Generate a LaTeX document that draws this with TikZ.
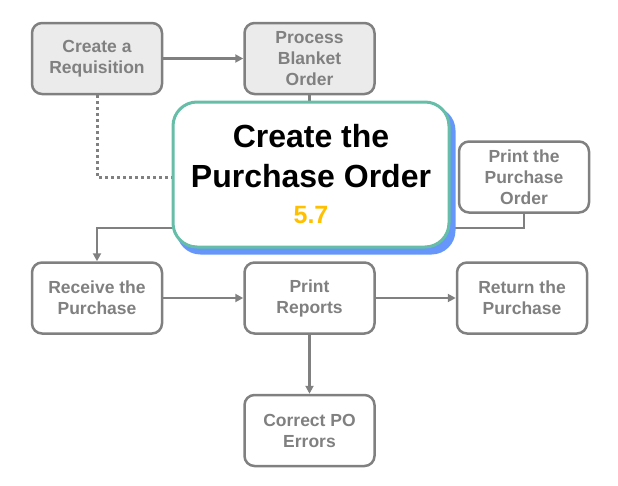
\documentclass[tikz,border=0pt]{standalone}
\usepackage{fontspec}
\setmainfont{Liberation Sans}
\usetikzlibrary{arrows.meta, positioning, backgrounds}
\definecolor{stepgray}{RGB}{128,128,128}
\definecolor{boxfill}{RGB}{235,235,235}
\definecolor{poteal}{RGB}{102,190,168}
\definecolor{poblue}{RGB}{102,150,250}
\definecolor{poyellow}{RGB}{255,192,0}

\begin{document}
\begin{tikzpicture}[x=1pt, y=1pt,
  font=\fontsize{17.5}{21}\selectfont\bfseries,
  task/.style={draw=stepgray, line width=2.5pt, rounded corners=10pt, fill=white, text=stepgray,
    align=center, minimum width=130pt, minimum height=71pt, inner sep=2pt},
  done/.style={task, fill=boxfill},
  main/.style={draw=poteal, line width=3pt, rounded corners=24pt, fill=white, align=center,
    minimum width=276pt, minimum height=145pt, font=\fontsize{32}{40}\selectfont\bfseries},
  ar/.style={-{Triangle[length=8pt, width=8pt]}, draw=stepgray, line width=2.5pt},
  ln/.style={draw=stepgray, line width=2.5pt},
  dots/.style={ln, line width=3pt, dash pattern=on 3pt off 3pt}]

\useasboundingbox (0,0) rectangle (618,-485);

% --- top row: requisition -> blanket order
\node[done] (req) at (97,-58.5) {Create a\\Requisition};
\node[done, right=80pt of req] (pbo) {Process\\Blanket\\Order};

% --- the step itself
\node[main] (po) at (311,-174.5) {Create the\\Purchase Order\\[-4pt]
  {\fontsize{25}{30}\selectfont\color{poyellow}5.7}};
\node[task] (ppo) at (524,-177) {Print the\\Purchase\\Order};

% --- bottom rows
\node[task] (rcv) at (97,-298) {Receive the\\Purchase};
\node[task, right=80pt of rcv] (rpt) {Print\\Reports};
\node[task, right=80pt of rpt] (ret) {Return the\\Purchase};
\node[task, below=59pt of rpt] (cor) {Correct PO\\Errors};

\begin{scope}[on background layer]
\draw[ar] (req) -- (pbo);
\draw[ln] (pbo.south) -- (pbo.south |- po.north);
\draw[dots] (req.south) |- ([yshift=-2.5pt]po.west);
\draw[ln] (ppo.south) |- ([yshift=-53.5pt]po.east);
\draw[ar] ([yshift=-53.5pt]po.west) -| (rcv.north);
% blue shadow under the main step
\fill[poblue, rounded corners=24pt] ([shift={(5,-6)}]po.south west) rectangle ([shift={(5,-6)}]po.north east);
\end{scope}
\draw[ar] (rcv) -- (rpt);
\draw[ar] (rpt) -- (ret);
\draw[ar] (rpt) -- (cor);
\end{tikzpicture}
\end{document}
